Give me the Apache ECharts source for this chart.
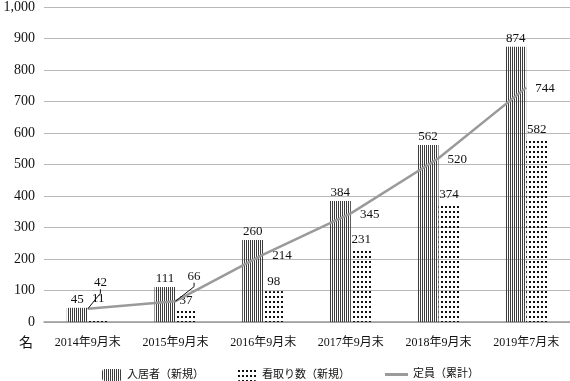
<!DOCTYPE html>
<html>
<head>
<meta charset="utf-8">
<script src="https://cdn.jsdelivr.net/npm/echarts@6/dist/echarts.min.js"></script>
<style>html,body{margin:0;padding:0;background:#fff}#c{width:570px;height:381px}</style>
</head>
<body>
<div id="c"></div>
<script>
const categories = ['2014年9月末','2015年9月末','2016年9月末','2017年9月末','2018年9月末','2019年7月末'];
const residents = [45, 111, 260, 384, 562, 874];
const deaths = [11, 37, 98, 231, 374, 582];
const capacity = [42, 66, 214, 345, 520, 744];
const yMin = 0, yMax = 1000, yStep = 100;
const seriesNames = ['入居者（新規）', '看取り数（新規）', '定員（累計）'];

const FONT = "'Liberation Serif', 'DejaVu Serif', 'Noto Sans CJK JP', serif";

function stripePattern() {
  const c = document.createElement('canvas');
  c.width = 2; c.height = 2;
  const g = c.getContext('2d');
  g.fillStyle = '#3c3c3c';
  g.fillRect(0, 0, 1, 2);
  return c;
}
function dotPattern() {
  const c = document.createElement('canvas');
  c.width = 4; c.height = 5;
  const g = c.getContext('2d');
  g.fillStyle = '#111';
  g.fillRect(1, 1, 2, 2);
  return c;
}

const chart = echarts.init(document.getElementById('c'), null, {renderer: 'canvas'});
const legendBase = {
  top: 364, itemWidth: 20, itemHeight: 12, itemGap: 5,
  textStyle: {fontFamily: FONT, fontSize: 11, color: '#111'}
};
const capacityData = capacity.map((v, i) => ({value: v, labelLine: {show: i < 2}}));
chart.setOption({
  animation: false,
  backgroundColor: '#fff',
  textStyle: {fontFamily: FONT},
  grid: {left: 44, right: -2, top: 4, bottom: 59, containLabel: false},
  legend: [
    Object.assign({left: 97, data: [seriesNames[0]]}, legendBase),
    Object.assign({left: 232, data: [seriesNames[1]]}, legendBase),
    Object.assign({left: 380, data: [{name: seriesNames[2], icon: 'rect'}]}, legendBase, {itemWidth: 23, itemHeight: 3})
  ],
  graphic: [{
    type: 'text', left: 19, top: 335,
    style: {text: '名', font: "14px 'Noto Sans CJK JP'", fill: '#111'}
  }],
  xAxis: {
    type: 'category',
    data: categories,
    boundaryGap: true,
    axisLine: {lineStyle: {color: '#999', width: 1.5}},
    axisTick: {show: false},
    axisLabel: {margin: 15, fontSize: 12, color: '#111', fontFamily: FONT, interval: 0}
  },
  yAxis: {
    type: 'value',
    min: yMin, max: yMax, interval: yStep,
    axisLine: {show: false},
    axisTick: {show: false},
    splitLine: {lineStyle: {color: '#b8b8b8', width: 1}},
    axisLabel: {
      margin: 9, fontSize: 14, color: '#111', fontFamily: FONT,
      formatter: v => v.toLocaleString('en-US')
    }
  },
  series: [
    {
      name: seriesNames[0], type: 'bar', data: residents, z: 2,
      barWidth: 21, barGap: '0%',
      itemStyle: {color: {image: stripePattern(), repeat: 'repeat'}},
      label: {show: true, position: 'top', distance: 2, fontSize: 13, color: '#111', fontFamily: FONT}
    },
    {
      name: seriesNames[1], type: 'bar', data: deaths, z: 2,
      barWidth: 21, barGap: '0%',
      itemStyle: {color: {image: dotPattern(), repeat: 'repeat'}},
      label: {show: true, position: 'top', distance: 3, fontSize: 13, color: '#111', fontFamily: FONT},
      labelLayout: p => (p.dataIndex === 0 ? {dy: -10} : {})
    },
    {
      name: seriesNames[2], type: 'line', data: capacityData,
      symbol: 'circle', symbolSize: 0.1, showSymbol: true, z: 10, zlevel: 1,
      lineStyle: {color: '#9a9a9a', width: 2.5},
      itemStyle: {color: '#9a9a9a'},
      label: {show: true, position: 'right', distance: 6, fontSize: 13, color: '#111', fontFamily: FONT},
      labelLine: {show: false, length2: 4, lineStyle: {color: '#111', width: 1}},
      labelLayout: p => {
        if (p.dataIndex === 0) return {dx: 0, dy: -26};
        if (p.dataIndex === 1) return {dx: 6, dy: -25};
        return {dx: 3, dy: 1};
      }
    }
  ]
});
</script>
</body>
</html>
